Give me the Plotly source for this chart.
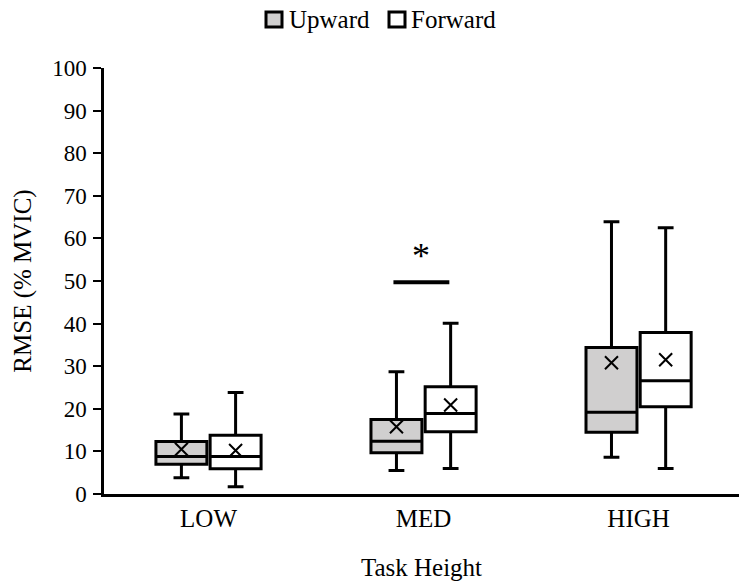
import plotly.graph_objects as go

categories = ["LOW", "MED", "HIGH"]

up_lower = [3.8, 5.5, 8.6]
up_q1 = [7.0, 9.7, 14.5]
up_median = [8.8, 12.4, 19.2]
up_q3 = [12.3, 17.5, 34.4]
up_upper = [18.8, 28.7, 63.9]
up_mean = [10.5, 15.8, 30.8]

fw_lower = [1.7, 6.0, 6.0]
fw_q1 = [5.9, 14.6, 20.5]
fw_median = [8.8, 18.9, 26.6]
fw_q3 = [13.8, 25.2, 37.9]
fw_upper = [23.8, 40.1, 62.5]
fw_mean = [10.2, 20.9, 31.5]

y_ticks = list(range(0, 101, 10))
sig_y = 49.7

FONT = "Liberation Serif, Times New Roman, serif"
UP_FILL = "#d0cfcf"
FW_FILL = "#ffffff"
off = 0.126
bw = 0.237

# plot area in pixels (for converting legend placement to paper fractions)
L, T, W, H = 104, 68, 635, 426


def px(x):
    return (x - L) / W


def py(y):
    return (T + H - y) / H


idx = list(range(len(categories)))
x_up = [i - off for i in idx]
x_fw = [i + off for i in idx]

fig = go.Figure()
for name, xs, lo, q1, med, q3, hi, fill in [
    ("Upward", x_up, up_lower, up_q1, up_median, up_q3, up_upper, UP_FILL),
    ("Forward", x_fw, fw_lower, fw_q1, fw_median, fw_q3, fw_upper, FW_FILL),
]:
    fig.add_trace(go.Box(
        name=name, x=xs, lowerfence=lo, q1=q1, median=med, q3=q3, upperfence=hi,
        width=bw, whiskerwidth=0.31, fillcolor=fill,
        line=dict(color="black", width=3), boxpoints=False, showlegend=False,
    ))

for xs, means in [(x_up, up_mean), (x_fw, fw_mean)]:
    fig.add_trace(go.Scatter(
        x=xs, y=means, mode="markers", showlegend=False, hoverinfo="skip",
        marker=dict(symbol="x-thin", size=13, line=dict(color="black", width=2)),
    ))

# significance marker
fig.add_shape(type="line", x0=0.86, x1=1.12, y0=sig_y, y1=sig_y, xref="x", yref="y",
              line=dict(color="black", width=4))
fig.add_annotation(x=0.99, y=sig_y, xref="x", yref="y", text="*", showarrow=False,
                   yanchor="bottom", yshift=4, font=dict(family=FONT, size=36, color="black"))

# custom legend
legend_items = [("Upward", UP_FILL, 266, 287), ("Forward", FW_FILL, 389, 409)]
for label, fill, sx, tx in legend_items:
    fig.add_shape(type="rect", xref="paper", yref="paper",
                  x0=px(sx), x1=px(sx + 16), y0=py(27), y1=py(12),
                  fillcolor=fill, line=dict(color="black", width=3))
    fig.add_annotation(xref="paper", yref="paper", x=px(tx), y=py(19.5),
                       xanchor="left", yanchor="middle", text=label, showarrow=False,
                       font=dict(family=FONT, size=25, color="black"))

fig.update_layout(
    width=739, height=582,
    margin=dict(l=L, r=739 - L - W, t=T, b=582 - T - H),
    plot_bgcolor="white", paper_bgcolor="white",
    font=dict(family=FONT, size=23, color="black"),
    boxmode="overlay", showlegend=False,
    xaxis=dict(range=[-0.486, 2.467], tickvals=idx, ticktext=categories,
               tickfont=dict(family=FONT, size=25),
               showline=True, linecolor="black", linewidth=3, ticks="",
               showgrid=False, zeroline=False,
               title=dict(text="Task Height", font=dict(family=FONT, size=25), standoff=28)),
    yaxis=dict(range=[0, 100], tickvals=y_ticks, showline=True, linecolor="black", linewidth=2.5,
               tickfont=dict(family=FONT, size=23),
               ticks="outside", ticklen=8, tickwidth=2, tickcolor="black",
               showgrid=False, zeroline=False, ticklabelstandoff=2,
               title=dict(text="RMSE (% MVIC)", font=dict(family=FONT, size=25), standoff=14)),
)

fig.write_html("out.html")
